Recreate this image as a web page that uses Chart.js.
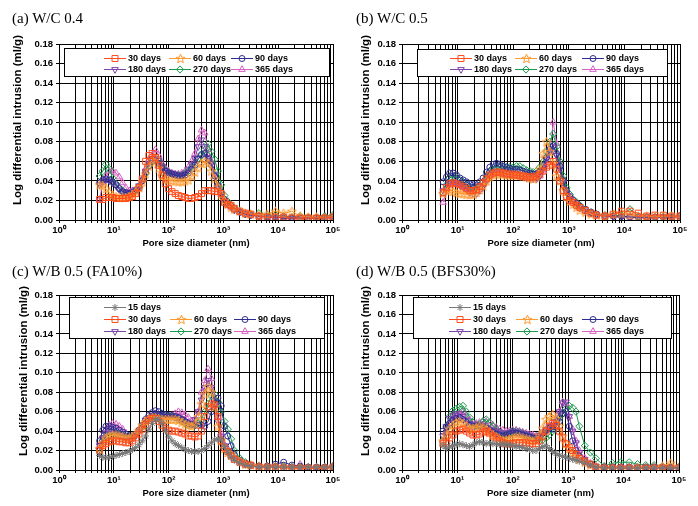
<!DOCTYPE html>
<html>
<head>
<meta charset="utf-8">
<script src="https://cdn.jsdelivr.net/npm/chart.js@4.4.1/dist/chart.umd.min.js"></script>
<style>
  body { margin: 0; background: #fff; }
  #page { position: relative; width: 698px; height: 506px; overflow: hidden; background: #fff; }
  .panel { position: absolute; width: 349px; height: 253px; }
  .ttl { position: absolute; font-family: "Liberation Serif", "Times New Roman", serif; font-size: 15px; line-height: 17px; color: #000; white-space: nowrap; }
</style>
</head>
<body>
<div id="page">
  <canvas id="cA" class="panel" width="349" height="253" style="left:0;top:0"></canvas>
  <canvas id="cB" class="panel" width="349" height="253" style="left:349px;top:0"></canvas>
  <canvas id="cC" class="panel" width="349" height="253" style="left:0;top:253px"></canvas>
  <canvas id="cD" class="panel" width="349" height="253" style="left:349px;top:253px"></canvas>
  <div class="ttl" style="left:12px;top:10px">(a) W/C 0.4</div>
  <div class="ttl" style="left:356px;top:10px">(b) W/C 0.5</div>
  <div class="ttl" style="left:12px;top:263px">(c) W/B 0.5 (FA10%)</div>
  <div class="ttl" style="left:356px;top:263px">(d) W/B 0.5 (BFS30%)</div>
</div>
<script>
// pore size diameter (nm) of the measured points
const poreSize = [
  5.5, 6.3, 7.2, 8.3, 9.5, 11, 12.6, 14.5, 16.6, 19.1,
  21.9, 25.1, 28.8, 33.1, 38, 43.7, 50.1, 57.5, 66.1, 75.9,
  87.1, 100, 115, 132, 151, 174, 200, 229, 263, 302,
  347, 398, 457, 525, 603, 692, 794, 912, 1047, 1202,
  1380, 1585, 1995, 2512, 3162, 4467, 6310, 8913, 12589, 17783, 25119, 35481, 50119, 70795, 100000
];

const xGrid = [
  1, 2, 3, 4, 5, 6, 7, 8, 9,
  10, 20, 30, 40, 50, 60, 70, 80, 90,
  100, 200, 300, 400, 500, 600, 700, 800, 900,
  1000, 2000, 3000, 4000, 5000, 6000, 7000, 8000, 9000,
  10000, 20000, 30000, 40000, 50000, 60000, 70000, 80000, 90000,
  100000
];
const yGrid = [0, 0.01, 0.02, 0.03, 0.04, 0.05, 0.06, 0.07, 0.08, 0.09,
  0.10, 0.11, 0.12, 0.13, 0.14, 0.15, 0.16, 0.17, 0.18];
const superDigits = ['\u2070', '\u00b9', '\u00b2', '\u00b3', '\u2074', '\u2075'];

const yTitleText = 'Log differential intrusion (ml/g)';
const xTitleText = 'Pore size diameter (nm)';

// (a) W/C 0.4
const wc04_30 = [
  .021,.021,.023,.023,.023,.022,.022,.022,.022,.023,
  .024,.027,.033,.042,.060,.066,.068,.064,.056,.046,
  .037,.032,.029,.027,.025,.024,.023,.022,.022,.023,
  .024,.027,.030,.030,.030,.029,.029,.027,.018,.016,
  .015,.012,.009,.007,.006,.004,.003,.003,.003,.002,.002,.002,.002,.002,.003];
const wc04_60 = [
  .036,.035,.032,.028,.025,.024,.023,.023,.023,.024,
  .026,.029,.033,.039,.047,.055,.061,.063,.053,.045,
  .042,.041,.040,.040,.039,.039,.040,.041,.045,.049,
  .054,.058,.060,.058,.050,.042,.034,.026,.020,.016,
  .013,.011,.009,.007,.006,.005,.006,.009,.007,.009,.004,.003,.003,.002,.003];
const wc04_90 = [
  .038,.041,.042,.041,.039,.036,.032,.029,.028,.027,
  .028,.030,.034,.040,.048,.055,.060,.062,.058,.053,
  .050,.048,.047,.046,.045,.045,.046,.048,.052,.056,
  .062,.067,.068,.062,.056,.045,.035,.028,.021,.017,
  .014,.011,.008,.006,.005,.004,.003,.003,.002,.002,.002,.002,.002,.002,.003];
const wc04_180 = [
  .036,.039,.041,.040,.038,.035,.031,.029,.028,.028,
  .029,.031,.035,.041,.050,.058,.062,.065,.061,.055,
  .051,.049,.048,.047,.046,.046,.048,.052,.057,.063,
  .075,.082,.075,.064,.058,.047,.035,.026,.020,.016,
  .013,.010,.008,.006,.005,.004,.003,.003,.002,.002,.002,.002,.002,.002,.002];
const wc04_270 = [
  .045,.050,.057,.052,.043,.037,.033,.030,.027,.026,
  .027,.030,.034,.040,.048,.056,.061,.063,.060,.055,
  .051,.049,.047,.046,.046,.046,.048,.050,.054,.058,
  .063,.066,.072,.078,.070,.062,.050,.036,.025,.019,
  .015,.012,.009,.007,.006,.007,.005,.005,.004,.003,.004,.003,.003,.004,.005];
const wc04_365 = [
  .021,.038,.045,.050,.050,.048,.044,.038,.033,.030,
  .030,.031,.035,.042,.052,.061,.066,.072,.066,.058,
  .053,.050,.048,.047,.047,.048,.050,.054,.060,.068,
  .083,.092,.089,.072,.060,.045,.034,.026,.020,.016,
  .013,.010,.008,.006,.005,.004,.003,.003,.003,.002,.002,.002,.002,.003,.003];

// (b) W/C 0.5
const wc05_30 = [
  .028,.033,.037,.038,.037,.036,.034,.032,.030,.030,
  .031,.034,.038,.042,.046,.048,.049,.049,.048,.047,
  .047,.046,.046,.045,.045,.044,.044,.044,.045,.047,
  .050,.054,.056,.060,.052,.040,.030,.024,.020,.018,
  .015,.013,.010,.007,.005,.004,.006,.009,.009,.007,.004,.005,.005,.004,.004];
const wc05_60 = [
  .027,.030,.031,.029,.028,.027,.027,.026,.026,.026,
  .028,.031,.035,.040,.044,.046,.047,.047,.047,.046,
  .046,.046,.046,.046,.045,.044,.043,.042,.044,.052,
  .068,.080,.070,.058,.045,.040,.030,.024,.019,.016,
  .013,.010,.008,.006,.005,.004,.006,.007,.005,.004,.004,.003,.004,.004,.003];
const wc05_90 = [
  .039,.044,.048,.048,.046,.043,.041,.039,.037,.036,
  .036,.039,.043,.049,.054,.057,.058,.057,.055,.054,
  .053,.052,.052,.051,.050,.049,.048,.047,.047,.050,
  .056,.064,.072,.076,.068,.055,.040,.030,.024,.020,
  .017,.014,.011,.008,.006,.004,.004,.004,.003,.003,.003,.003,.003,.003,.004];
const wc05_180 = [
  .030,.034,.038,.039,.038,.036,.034,.031,.028,.027,
  .027,.030,.034,.040,.045,.047,.048,.048,.047,.046,
  .046,.046,.046,.045,.044,.043,.042,.042,.042,.045,
  .052,.062,.070,.075,.066,.052,.038,.028,.022,.018,
  .015,.012,.009,.007,.005,.004,.003,.003,.003,.002,.002,.002,.003,.003,.003];
const wc05_270 = [
  .028,.036,.043,.045,.044,.041,.039,.036,.033,.032,
  .033,.035,.039,.045,.050,.053,.054,.054,.054,.054,
  .054,.054,.055,.055,.053,.051,.050,.049,.050,.054,
  .060,.070,.080,.088,.075,.060,.045,.033,.026,.021,
  .018,.015,.011,.008,.006,.005,.004,.005,.011,.004,.003,.003,.003,.003,.004];
const wc05_365 = [
  .018,.030,.036,.038,.037,.036,.034,.032,.030,.029,
  .029,.031,.036,.042,.047,.049,.050,.050,.049,.049,
  .048,.048,.048,.047,.047,.046,.045,.044,.043,.045,
  .050,.058,.070,.100,.078,.058,.042,.030,.023,.019,
  .016,.013,.010,.007,.005,.004,.004,.004,.003,.003,.003,.003,.003,.003,.004];

// (c) W/B 0.5 (FA10%)
const fa10_15 = [
  .015,.013,.013,.013,.014,.015,.016,.017,.018,.019,
  .021,.023,.026,.030,.035,.042,.048,.052,.052,.048,
  .040,.034,.030,.027,.025,.023,.021,.020,.019,.019,
  .019,.020,.022,.025,.028,.031,.032,.031,.024,.018,
  .013,.010,.007,.005,.004,.003,.003,.003,.003,.003,.003,.003,.003,.003,.003];
const fa10_30 = [
  .020,.025,.027,.029,.030,.030,.029,.029,.028,.028,
  .030,.033,.037,.042,.047,.051,.053,.053,.050,.046,
  .043,.041,.040,.040,.039,.038,.037,.035,.035,.034,
  .035,.040,.055,.065,.068,.067,.055,.030,.023,.019,
  .015,.011,.008,.006,.005,.003,.003,.003,.002,.002,.002,.002,.002,.002,.003];
const fa10_60 = [
  .022,.028,.033,.035,.036,.036,.035,.034,.033,.033,
  .034,.037,.041,.046,.050,.053,.054,.054,.053,.052,
  .052,.052,.052,.052,.051,.049,.047,.046,.045,.047,
  .055,.068,.078,.086,.080,.065,.045,.030,.022,.018,
  .015,.012,.009,.006,.005,.004,.003,.003,.003,.002,.002,.002,.002,.002,.003];
const fa10_90 = [
  .030,.041,.045,.045,.044,.043,.041,.039,.037,.035,
  .035,.037,.041,.046,.052,.056,.059,.061,.060,.058,
  .057,.056,.056,.055,.054,.052,.050,.048,.047,.046,
  .046,.046,.045,.050,.060,.068,.074,.066,.045,.035,
  .025,.016,.010,.007,.005,.004,.004,.006,.008,.005,.004,.003,.003,.003,.003];
const fa10_180 = [
  .025,.033,.038,.040,.040,.038,.036,.034,.032,.031,
  .032,.035,.040,.046,.051,.054,.056,.057,.056,.055,
  .055,.055,.055,.055,.054,.052,.050,.048,.048,.052,
  .060,.072,.085,.092,.085,.068,.050,.035,.025,.019,
  .015,.012,.009,.006,.005,.004,.003,.003,.003,.003,.002,.002,.002,.002,.003];
const fa10_270 = [
  .022,.030,.035,.037,.038,.038,.037,.036,.035,.034,
  .035,.037,.040,.044,.049,.053,.055,.056,.056,.056,
  .056,.055,.055,.054,.052,.050,.048,.046,.046,.046,
  .048,.052,.060,.068,.076,.078,.070,.060,.050,.042,
  .032,.020,.012,.008,.005,.004,.004,.004,.004,.003,.003,.003,.002,.002,.004];
const fa10_365 = [
  .025,.035,.042,.046,.048,.047,.045,.042,.038,.035,
  .034,.036,.040,.045,.050,.053,.055,.056,.056,.055,
  .055,.055,.056,.058,.060,.059,.057,.054,.050,.052,
  .060,.080,.092,.104,.094,.075,.055,.038,.026,.020,
  .016,.012,.009,.006,.005,.004,.004,.004,.004,.003,.006,.003,.003,.003,.004];

// (d) W/B 0.5 (BFS30%)
const bfs30_15 = [
  .025,.022,.024,.025,.026,.027,.026,.025,.024,.026,
  .028,.029,.028,.027,.028,.027,.027,.026,.027,.026,
  .026,.025,.024,.024,.023,.022,.021,.020,.020,.022,
  .024,.025,.022,.019,.017,.015,.014,.013,.012,.011,
  .010,.009,.007,.005,.003,.002,.002,.002,.002,.002,.002,.002,.002,.002,.002];
const bfs30_30 = [
  .027,.029,.033,.036,.040,.041,.042,.040,.038,.036,
  .036,.037,.039,.040,.038,.035,.033,.030,.028,.027,
  .027,.027,.028,.028,.028,.028,.027,.027,.027,.030,
  .034,.040,.045,.048,.046,.040,.033,.027,.023,.020,
  .016,.012,.009,.006,.003,.002,.002,.002,.002,.002,.002,.002,.002,.002,.002];
const bfs30_60 = [
  .030,.036,.042,.046,.049,.050,.048,.045,.043,.043,
  .044,.045,.044,.042,.039,.036,.034,.032,.031,.031,
  .032,.033,.034,.034,.033,.032,.031,.030,.031,.036,
  .043,.052,.055,.057,.053,.045,.035,.027,.022,.018,
  .014,.011,.008,.005,.003,.002,.002,.002,.002,.002,.002,.002,.004,.007,.003];
const bfs30_90 = [
  .040,.044,.048,.051,.053,.054,.052,.049,.046,.045,
  .045,.045,.044,.043,.041,.039,.037,.036,.035,.036,
  .037,.038,.038,.037,.036,.035,.034,.033,.033,.035,
  .038,.041,.043,.042,.044,.050,.058,.060,.045,.030,
  .020,.014,.009,.006,.003,.003,.003,.003,.003,.002,.003,.003,.002,.002,.003];
const bfs30_180 = [
  .035,.045,.053,.056,.058,.058,.055,.051,.048,.047,
  .047,.047,.046,.044,.042,.041,.040,.039,.038,.038,
  .039,.040,.040,.039,.038,.037,.036,.035,.034,.036,
  .039,.042,.045,.046,.050,.060,.069,.070,.055,.040,
  .028,.018,.011,.007,.004,.003,.003,.003,.003,.003,.003,.003,.003,.003,.003];
const bfs30_270 = [
  .030,.045,.055,.061,.063,.065,.066,.060,.054,.049,
  .046,.047,.050,.052,.049,.045,.042,.039,.037,.037,
  .038,.040,.040,.039,.038,.036,.034,.032,.031,.030,
  .031,.033,.036,.040,.046,.053,.058,.063,.066,.064,
  .060,.045,.025,.018,.012,.004,.007,.008,.008,.006,.005,.005,.004,.003,.003];
const bfs30_365 = [
  .030,.040,.048,.053,.056,.058,.060,.056,.052,.049,
  .048,.049,.050,.050,.048,.046,.044,.042,.041,.040,
  .040,.041,.041,.040,.039,.038,.037,.036,.035,.036,
  .038,.041,.044,.048,.052,.060,.070,.068,.055,.042,
  .030,.020,.012,.007,.004,.003,.003,.003,.003,.003,.003,.003,.003,.003,.003];

// open five-point star used for the 60 days series
function makeStar(color) {
  const c = document.createElement('canvas');
  c.width = 11; c.height = 11;
  const g = c.getContext('2d');
  g.strokeStyle = color;
  g.lineWidth = 1;
  g.beginPath();
  for (let i = 0; i < 10; i++) {
    const r = i % 2 ? 2.1 : 4.8;
    const a = -Math.PI / 2 + i * Math.PI / 5;
    const px = 5.5 + r * Math.cos(a), py = 5.9 + r * Math.sin(a);
    if (i) g.lineTo(px, py); else g.moveTo(px, py);
  }
  g.closePath();
  g.stroke();
  return c;
}

const seriesStyle = {
  '15 days':  { color: '#787878', point: 'star', radius: 3.5 },
  '30 days':  { color: '#ff4c1c', point: 'rect', radius: 4.2 },
  '60 days':  { color: '#ff9a30', point: makeStar('#ff9a30'), radius: 4 },
  '90 days':  { color: '#2e2c8e', point: 'circle', radius: 3 },
  '180 days': { color: '#7a45aa', point: 'triangle', radius: 3.8, rotation: 180 },
  '270 days': { color: '#1a9a4c', point: 'rectRot', radius: 3.6 },
  '365 days': { color: '#d862c4', point: 'triangle', radius: 3.8 }
};

function makeDataset(label, values) {
  const s = seriesStyle[label];
  return {
    label,
    data: poreSize.map((x, i) => ({ x, y: values[i] })),
    borderColor: s.color,
    borderWidth: 1,
    pointStyle: s.point,
    pointRadius: s.radius,
    pointRotation: s.rotation || 0,
    pointBorderColor: s.color,
    pointBorderWidth: 1,
    pointBackgroundColor: 'rgba(255,255,255,0)',
    tension: 0,
    fill: false
  };
}

function drawMarker(ctx, ds, x, y) {
  const r = ds.pointRadius, st = ds.pointStyle;
  ctx.save();
  ctx.strokeStyle = ds.borderColor;
  ctx.lineWidth = 1;
  if (typeof st !== 'string') {
    ctx.drawImage(st, Math.round(x - st.width / 2), Math.round(y - st.height / 2));
    ctx.restore();
    return;
  }
  ctx.beginPath();
  if (st === 'circle') {
    ctx.arc(x, y, r, 0, Math.PI * 2);
  } else if (st === 'rect') {
    const s = r * Math.SQRT1_2;
    ctx.rect(x - s, y - s, 2 * s, 2 * s);
  } else if (st === 'rectRot') {
    ctx.moveTo(x, y - r); ctx.lineTo(x + r, y); ctx.lineTo(x, y + r); ctx.lineTo(x - r, y);
    ctx.closePath();
  } else if (st === 'triangle') {
    let a = (ds.pointRotation || 0) * Math.PI / 180;
    for (let i = 0; i < 3; i++) {
      const px = x + Math.sin(a) * r, py = y - Math.cos(a) * r;
      if (i) ctx.lineTo(px, py); else ctx.moveTo(px, py);
      a += 2 * Math.PI / 3;
    }
    ctx.closePath();
  } else if (st === 'star') {
    for (let i = 0; i < 4; i++) {
      const a = i * Math.PI / 4;
      ctx.moveTo(x + Math.cos(a) * r, y + Math.sin(a) * r);
      ctx.lineTo(x - Math.cos(a) * r, y - Math.sin(a) * r);
    }
  }
  ctx.stroke();
  ctx.restore();
}

const sansFont = '"Liberation Sans", Arial, Helvetica, sans-serif';

// axis titles and the boxed legend inside the plot area
const panelDecor = {
  id: 'panelDecor',
  afterDraw(chart, args, o) {
    const ctx = chart.ctx, area = chart.chartArea;
    ctx.save();
    ctx.fillStyle = '#000';
    ctx.textAlign = 'center';
    ctx.textBaseline = 'middle';
    ctx.font = 'bold 9.5px ' + sansFont;
    ctx.fillText(xTitleText, (area.left + area.right) / 2, o.xTitleY);
    ctx.translate(o.yTitle[0], o.yTitle[1]);
    ctx.rotate(-Math.PI / 2);
    ctx.font = 'bold 11.5px ' + sansFont;
    ctx.fillText(yTitleText, 0, 0);
    ctx.restore();

    const [bx, by, bw, bh] = o.box;
    ctx.save();
    ctx.fillStyle = '#fff';
    ctx.fillRect(bx, by, bw, bh);
    ctx.strokeStyle = '#000';
    ctx.lineWidth = 1;
    ctx.strokeRect(bx + 0.5, by + 0.5, bw, bh);
    ctx.font = 'bold 9px ' + sansFont;
    ctx.textAlign = 'left';
    ctx.textBaseline = 'middle';
    o.rows.forEach((row, r) => {
      row.forEach((label, c) => {
        const ds = chart.data.datasets.find(d => d.label === label);
        const tx = o.cols[c], ty = o.rowY[r];
        ctx.strokeStyle = ds.borderColor;
        ctx.beginPath();
        ctx.moveTo(tx - 24, ty + 0.5);
        ctx.lineTo(tx - 2, ty + 0.5);
        ctx.stroke();
        drawMarker(ctx, ds, tx - 13, ty + 0.5);
        ctx.fillStyle = '#000';
        ctx.fillText(label, tx, ty + 0.5);
      });
    });
    ctx.restore();
  }
};

function buildChart(p) {
  const tickFont = { family: sansFont, size: 9.5, weight: 'bold' };
  return new Chart(document.getElementById(p.canvas), {
    type: 'line',
    data: { datasets: p.series.map(([label, values]) => makeDataset(label, values)) },
    options: {
      responsive: false,
      animation: false,
      devicePixelRatio: 1,
      layout: { padding: { left: 0, top: p.top, right: p.right, bottom: 0 } },
      plugins: {
        legend: { display: false },
        tooltip: { enabled: false },
        panelDecor: p.decor
      },
      scales: {
        x: {
          type: 'logarithmic',
          min: 1,
          max: 100000,
          afterBuildTicks: s => { s.ticks = xGrid.map(v => ({ value: v })); },
          afterFit: s => { s.height = p.xH; },
          ticks: {
            autoSkip: false,
            maxRotation: 0,
            minRotation: 0,
            padding: 2,
            color: '#000',
            font: tickFont,
            callback: v => {
              const e = Math.log10(v);
              return Math.abs(e - Math.round(e)) < 1e-9 ? '10' + superDigits[Math.round(e)] : '';
            }
          },
          grid: { color: '#000', lineWidth: 1, tickLength: 3 },
          border: { color: '#000', width: 1 }
        },
        y: {
          min: 0,
          max: 0.18,
          afterBuildTicks: s => { s.ticks = yGrid.map(v => ({ value: v })); },
          afterFit: s => { s.width = p.yW; },
          ticks: {
            color: '#000',
            font: tickFont,
            padding: 3,
            callback: v => (Math.round(v * 100) % 2 === 0 ? v.toFixed(2) : '')
          },
          grid: { color: '#000', lineWidth: 1, tickLength: 3 },
          border: { color: '#000', width: 1 }
        }
      }
    },
    plugins: [panelDecor]
  });
}

const rows6 = [['30 days', '60 days', '90 days'], ['180 days', '270 days', '365 days']];
const rows7 = [['15 days'], ['30 days', '60 days', '90 days'], ['180 days', '270 days', '365 days']];

buildChart({
  canvas: 'cA', yW: 59, right: 16, top: 44, xH: 33,
  series: [['30 days', wc04_30], ['60 days', wc04_60], ['90 days', wc04_90],
           ['180 days', wc04_180], ['270 days', wc04_270], ['365 days', wc04_365]],
  decor: { yTitle: [18, 120], xTitleY: 243, box: [64, 48, 265, 28], cols: [128, 193, 255], rowY: [58, 69], rows: rows6 }
});
buildChart({
  canvas: 'cB', yW: 53, right: 18, top: 44, xH: 33,
  series: [['30 days', wc05_30], ['60 days', wc05_60], ['90 days', wc05_90],
           ['180 days', wc05_180], ['270 days', wc05_270], ['365 days', wc05_365]],
  decor: { yTitle: [17, 120], xTitleY: 243, box: [68, 49, 250, 27], cols: [125, 190, 257], rowY: [58, 69], rows: rows6 }
});
buildChart({
  canvas: 'cC', yW: 59, right: 16, top: 42, xH: 36,
  series: [['15 days', fa10_15], ['30 days', fa10_30], ['60 days', fa10_60], ['90 days', fa10_90],
           ['180 days', fa10_180], ['270 days', fa10_270], ['365 days', fa10_365]],
  decor: { yTitle: [24, 118], xTitleY: 240, box: [69, 44, 255, 41], cols: [128, 194, 258], rowY: [54, 66, 78], rows: rows7 }
});
buildChart({
  canvas: 'cD', yW: 53, right: 19, top: 42, xH: 36,
  series: [['15 days', bfs30_15], ['30 days', bfs30_30], ['60 days', bfs30_60], ['90 days', bfs30_90],
           ['180 days', bfs30_180], ['270 days', bfs30_270], ['365 days', bfs30_365]],
  decor: { yTitle: [17, 118], xTitleY: 240, box: [64, 44, 258, 41], cols: [124, 191, 257], rowY: [54, 66, 78], rows: rows7 }
});
</script>
</body>
</html>
